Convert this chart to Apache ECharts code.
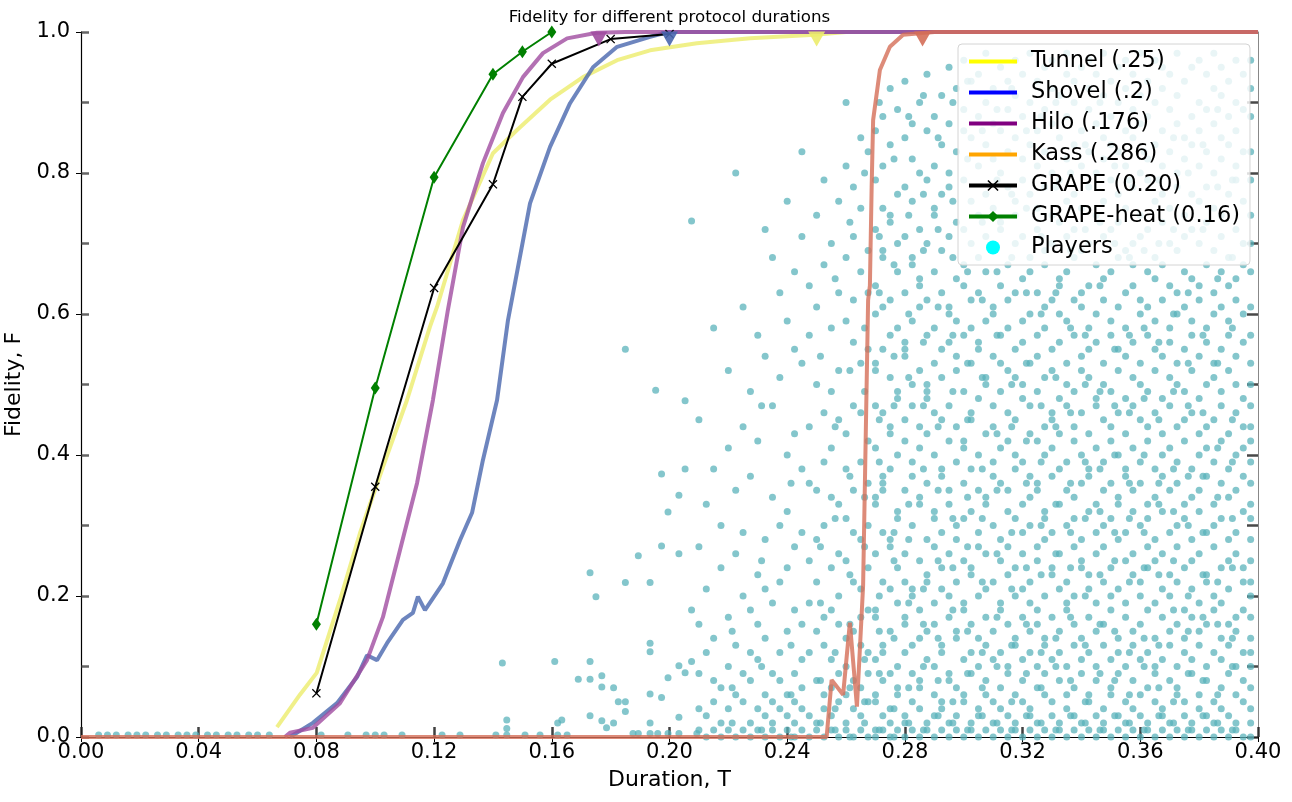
<!DOCTYPE html>
<html>
<head>
<meta charset="utf-8">
<script src="https://cdn.jsdelivr.net/npm/echarts@6/dist/echarts.min.js"></script>
<style>html,body{margin:0;padding:0;background:#fff}#c{width:1292px;height:802px}</style>
</head>
<body>
<div id="c"></div>
<script>
// ---------- data ----------
const xTicks = [0, 0.04, 0.08, 0.12, 0.16, 0.20, 0.24, 0.28, 0.32, 0.36, 0.40];
const yTicks = [0, 0.2, 0.4, 0.6, 0.8, 1.0];

const tunnel = [[0.0666,0.014],[0.0744,0.060],[0.0801,0.091],[0.0880,0.194],[0.0948,0.289],[0.1026,0.383],[0.1108,0.478],[0.1186,0.582],[0.1210,0.610],[0.1298,0.733],[0.1400,0.828],[0.1482,0.861],[0.1594,0.904],[0.1706,0.936],[0.1822,0.960],[0.1934,0.974],[0.2093,0.984],[0.2274,0.991],[0.2495,0.996],[0.26,1.0],[0.40,1.0]];
const shovel = [[0.0710,0.0],[0.0788,0.020],[0.0870,0.048],[0.0938,0.085],[0.0972,0.116],[0.1006,0.109],[0.1040,0.133],[0.1094,0.166],[0.1128,0.176],[0.1145,0.199],[0.1169,0.180],[0.1230,0.218],[0.1288,0.279],[0.1329,0.318],[0.1366,0.393],[0.1414,0.478],[0.1451,0.591],[0.1526,0.757],[0.1594,0.837],[0.1662,0.899],[0.1740,0.950],[0.1822,0.979],[0.1934,0.993],[0.1995,1.0],[0.40,1.0]];
const hilo = [[0.0693,0.0],[0.0710,0.006],[0.0788,0.013],[0.0880,0.048],[0.0972,0.109],[0.1026,0.170],[0.1084,0.265],[0.1142,0.360],[0.1196,0.478],[0.1247,0.606],[0.1298,0.723],[0.1366,0.814],[0.1434,0.885],[0.1502,0.936],[0.1570,0.970],[0.1652,0.991],[0.1753,0.999],[0.185,1.0],[0.40,1.0]];
const kass = [[0.0,0.0],[0.2534,0.0],[0.2551,0.081],[0.2590,0.060],[0.2613,0.162],[0.2637,0.043],[0.2658,0.215],[0.2675,0.620],[0.2681,0.640],[0.2687,0.780],[0.2692,0.875],[0.2715,0.946],[0.2749,0.979],[0.2794,0.996],[0.290,1.0],[0.40,1.0]];
const grape = [[0.08,0.062],[0.10,0.355],[0.12,0.637],[0.14,0.784],[0.15,0.908],[0.16,0.955],[0.18,0.990],[0.20,0.997]];
const grapeHeat = [[0.08,0.160],[0.10,0.495],[0.12,0.794],[0.14,0.940],[0.15,0.972],[0.16,1.0]];
const thresholds = [0.25, 0.2, 0.176, 0.286]; // Tunnel, Shovel, Hilo, Kass

const seriesNames = ['Tunnel (.25)','Shovel (.2)','Hilo (.176)','Kass (.286)','GRAPE (0.20)','GRAPE-heat (0.16)','Players'];

// players: duration columns and the fidelities found in each column
const playerT = [
.006,.009,.012,.016,.019,.022,.026,.029,.033,.036,.039,.043,.046,.050,.053,.057,.060,.064,
.0816,.0907,.0969,.1000,.1030,.1091,.1227,.1288,
.1410,.1432,.1447,.1509,.1560,.1610,.1620,.1634,.1652,.1690,.1730,.1750,.1770,.1786,.1810,.1826,.1850,.1876,.1894,.1934,.1953,.1960,.1973,.1995,.2032,.2053,.2075,.2093,
.2100,.2125,.2150,.2175,.2200,.2225,.2250,.2275,.2300,.2325,.2350,.2375,.2400,.2425,.2450,.2475,.2500,.2525,.2550,.2575,.2600,.2625,.2650,.2675,.2700,.2725,.2750,.2775,.2800,.2825,.2850,.2875,.2900,.2925,.2950,.2975,.3000,.3025,.3050,.3075,.3100,.3125,.3150,.3175,.3200,.3225,.3250,.3275,.3300,.3325,.3350,.3375,.3400,.3425,.3450,.3475,.3500,.3525,.3550,.3575,.3600,.3625,.3650,.3675,.3700,.3725,.3750,.3775,.3800,.3825,.3850,.3875,.3900,.3925,.3950,.3975,
.2213,.2313,.2413,.2513,.2563,.2613,.2663,.2713,.2763,.2813,.2863,.2913,.2963,.3013,.3063,.3113,.3163,.3213,.3263,.3313,.3363,.3413,.3463,.3513,.3563,.3613,.3663,.3713,.3763,.3813,.3863,.3913
];
const playerF = [
[.003],[.003],[.003],[.003],[.003],[.003],[.003],[.003],[.003],[.003],[.003],[.003],[.003],[.003],[.003],[.003],[.003],[.003],
[.003],[.003],[.003],[.003],[.003],[.003],[.003],[.003],
[.003],[.105],[.003,.012,.024],[.003],[.003],[.107],[.003,.020],[.024],[.003],[.082],[.030,.082,.107,.233],[.199],[.023,.071,.087],[.013],[.020,.070],[.050],[.036,.050,.219,.550],[.005],[.005,.257],[.005,.020,.061,.121,.133,.219],[.492],[.005],[.056,.271,.373],[.005,.084,.319],[.005,.028,.101,.260,.343],[.091,.380,.477],[.107,.180,.732],[.005],
[.01,.04,.09,.16,.27,.45],
[.00,.03,.12,.21,.33],
[.01,.05,.08,.14,.38,.58],
[.00,.02,.07,.24,.30],
[.01,.04,.10,.17,.41,.52],
[.00,.06,.13,.26,.35,.80],
[.01,.05,.09,.20,.29,.44,.61],
[.00,.02,.08,.12,.18,.37,.49],
[.01,.04,.11,.16,.23,.42,.57],
[.00,.03,.06,.14,.21,.28,.54,.72],
[.01,.02,.05,.09,.19,.34,.47,.68],
[.00,.04,.08,.12,.22,.30,.51,.63],
[.01,.03,.06,.15,.24,.32,.40,.59,.76],
[.00,.02,.05,.09,.18,.27,.43,.55,.66],
[.01,.04,.07,.11,.16,.29,.38,.53,.71,.83],
[.00,.03,.12,.19,.25,.36,.44,.57,.64],
[.01,.02,.08,.15,.22,.28,.35,.50,.61,.74],
[.00,.04,.06,.13,.17,.30,.39,.46,.67,.79],
[.01,.03,.07,.11,.18,.24,.34,.41,.49,.58,.70],
[.00,.05,.09,.16,.20,.26,.33,.45,.52,.63,.76],
[.01,.02,.06,.10,.14,.25,.31,.38,.43,.59,.68,.81,.90],
[.00,.04,.08,.15,.22,.29,.35,.47,.56,.62,.71,.78],
[.01,.03,.07,.13,.17,.21,.28,.39,.46,.53,.66,.75,.85],
[.00,.05,.09,.12,.18,.24,.30,.36,.42,.55,.63,.69,.83],
[.00,.01,.05,.06,.11,.17,.18,.26,.33,.34,.41,.47,.52,.53,.60,.64,.72,.79,.86],
[.01,.03,.08,.12,.13,.22,.29,.35,.36,.37,.46,.55,.61,.68,.69,.75,.81,.88],
[.00,.02,.04,.09,.15,.21,.27,.28,.38,.43,.44,.51,.57,.62,.73,.74,.84,.92],
[.01,.06,.07,.10,.19,.24,.31,.32,.40,.48,.49,.58,.66,.70,.77,.89],
[.00,.02,.03,.12,.16,.17,.22,.26,.35,.42,.45,.54,.55,.56,.63,.71,.78,.85,.93],
[.01,.05,.09,.13,.20,.21,.30,.37,.39,.47,.50,.59,.67,.68,.76,.82,.87],
[.00,.04,.07,.08,.14,.18,.25,.33,.34,.41,.44,.52,.61,.64,.65,.72,.80,.90],
[.01,.02,.11,.15,.22,.23,.28,.36,.43,.48,.49,.50,.57,.62,.70,.79,.86,.94],
[.00,.03,.06,.10,.16,.19,.27,.31,.32,.40,.46,.53,.58,.66,.74,.75,.81,.88],
[.01,.04,.05,.12,.13,.21,.24,.29,.37,.38,.45,.51,.55,.63,.69,.77,.84,.91],
[.00,.02,.08,.09,.17,.20,.26,.33,.35,.42,.47,.56,.60,.61,.71,.78,.80,.87,.95],
[.01,.03,.07,.14,.15,.22,.28,.30,.39,.44,.52,.54,.59,.65,.73,.83,.92],
[.00,.05,.06,.11,.18,.19,.25,.31,.36,.41,.42,.49,.57,.64,.67,.72,.79,.86,.89,.96],
[.01,.02,.09,.12,.16,.23,.24,.32,.38,.45,.46,.53,.58,.62,.70,.76,.85,.93],
[.00,.03,.04,.10,.14,.20,.27,.29,.35,.40,.48,.55,.56,.63,.68,.74,.81,.88,.94],
[.01,.06,.08,.13,.17,.21,.26,.33,.34,.43,.50,.51,.59,.66,.71,.77,.84,.90,.97],
[.00,.02,.05,.11,.15,.22,.30,.37,.39,.44,.47,.54,.60,.61,.69,.75,.82,.87,.92],
[.01,.04,.07,.12,.18,.19,.25,.28,.36,.41,.49,.53,.57,.64,.72,.73,.80,.86,.95],
[.00,.03,.09,.10,.16,.23,.27,.32,.35,.42,.46,.52,.58,.62,.67,.78,.83,.89,.93],
[.01,.02,.06,.13,.14,.20,.24,.31,.38,.40,.45,.51,.55,.63,.70,.74,.76,.85,.91,.96],
[.00,.05,.08,.11,.17,.21,.26,.29,.33,.39,.48,.50,.56,.59,.65,.71,.79,.82,.88,.94],
[.01,.03,.04,.12,.15,.19,.22,.30,.34,.37,.43,.47,.53,.60,.66,.68,.77,.84,.90,.97],
[.00,.02,.07,.10,.16,.18,.25,.27,.35,.36,.42,.49,.54,.57,.63,.72,.75,.81,.86,.93],
[.01,.06,.09,.13,.14,.20,.28,.31,.32,.40,.44,.51,.58,.61,.67,.69,.78,.83,.89,.95],
[.00,.03,.05,.11,.17,.23,.24,.29,.37,.41,.45,.46,.52,.55,.62,.70,.74,.80,.87,.92,.96],
[.01,.02,.08,.12,.15,.21,.26,.33,.38,.43,.48,.56,.60,.64,.65,.73,.79,.85,.91],
[.00,.04,.06,.10,.18,.19,.22,.30,.35,.39,.47,.50,.53,.59,.66,.71,.76,.82,.88,.94,.97],
[.01,.03,.07,.13,.16,.20,.27,.31,.34,.42,.44,.49,.57,.62,.68,.72,.77,.84,.90,.93],
[.00,.02,.09,.11,.14,.24,.25,.28,.36,.40,.46,.52,.54,.61,.63,.69,.75,.81,.86,.95],
[.01,.05,.06,.12,.17,.21,.23,.32,.37,.38,.43,.51,.55,.58,.64,.70,.78,.83,.89,.92,.96],
[.00,.03,.08,.10,.15,.19,.26,.29,.33,.41,.47,.48,.56,.60,.67,.74,.80,.87,.94],
[.01,.02,.04,.13,.16,.22,.27,.30,.35,.39,.45,.50,.53,.62,.65,.71,.76,.82,.85,.91,.97],
[.00,.06,.07,.11,.18,.20,.24,.31,.36,.42,.44,.49,.57,.59,.66,.72,.79,.84,.88,.93],
[.01,.03,.09,.12,.14,.21,.28,.33,.34,.40,.46,.52,.55,.61,.68,.73,.77,.83,.90,.95],
[.00,.02,.05,.10,.17,.19,.25,.29,.37,.38,.43,.48,.54,.58,.63,.69,.75,.81,.86,.92,.96],
[.01,.04,.08,.13,.15,.23,.26,.32,.35,.41,.47,.51,.56,.64,.67,.70,.78,.85,.89,.94],
[.00,.03,.06,.11,.16,.20,.22,.30,.36,.39,.45,.50,.53,.60,.62,.71,.74,.80,.87,.91,.97],
[.01,.02,.07,.12,.18,.24,.27,.31,.33,.42,.44,.49,.57,.61,.66,.72,.79,.82,.88,.93],
[.00,.05,.09,.10,.14,.19,.25,.28,.34,.38,.46,.52,.55,.59,.65,.68,.76,.84,.90,.96],
[.01,.03,.04,.11,.17,.21,.26,.32,.37,.40,.43,.48,.54,.62,.67,.73,.77,.81,.86,.92,.95],
[.00,.02,.08,.13,.15,.20,.23,.29,.35,.41,.47,.51,.56,.58,.64,.70,.75,.83,.89,.94],
[.01,.06,.07,.10,.16,.22,.27,.30,.36,.39,.44,.50,.53,.60,.63,.69,.78,.80,.87,.91,.97],
[.00,.03,.05,.12,.14,.18,.24,.31,.33,.42,.45,.49,.55,.61,.66,.71,.74,.82,.85,.93],
[.01,.02,.09,.11,.17,.21,.25,.28,.34,.38,.46,.52,.57,.59,.65,.72,.77,.84,.88,.95],
[.00,.04,.06,.13,.15,.19,.26,.32,.35,.40,.43,.48,.54,.62,.64,.70,.76,.81,.86,.90,.96],
[.01,.03,.08,.10,.16,.22,.23,.29,.37,.41,.44,.50,.56,.58,.67,.73,.78,.83,.89,.94],
[.00,.02,.05,.12,.18,.20,.27,.30,.33,.39,.45,.51,.53,.60,.63,.69,.75,.80,.87,.92,.97],
[.01,.04,.07,.11,.14,.19,.24,.31,.36,.42,.47,.49,.55,.61,.66,.71,.74,.82,.85,.91,.95],
[.00,.03,.09,.13,.16,.21,.25,.28,.34,.38,.43,.52,.57,.59,.64,.68,.77,.84,.88,.93],
[.01,.02,.06,.10,.15,.17,.26,.29,.35,.40,.46,.50,.54,.62,.65,.72,.79,.81,.86,.90,.96],
[.00,.05,.08,.12,.18,.22,.24,.32,.37,.41,.44,.48,.56,.60,.67,.70,.76,.83,.89,.94],
[.00,.02,.04,.07,.10,.12,.14,.17,.20,.22,.25,.28,.31,.33,.36,.39,.42,.44,.47,.50,.53,.57,.61,.66,.70,.74,.79,.83,.88,.92,.96],
[.02,.07,.15],
[.01,.10,.25,.47],
[.00,.06,.13,.36],
[.02,.08,.19,.27,.54],
[.01,.04,.12,.31,.44,.65],
[.00,.07,.16,.23,.37,.52,.73],
[.02,.05,.11,.27,.34,.49,.58,.80],
[.01,.09,.15,.20,.39,.45,.63,.71,.90],
[.00,.04,.14,.25,.29,.47,.54,.67,.82],
[.02,.07,.19,.28,.33,.51,.60,.74,.88],
[.01,.10,.16,.21,.38,.47,.56,.69,.77,.91],
[.03,.08,.14,.25,.35,.44,.61,.72,.85],
[.02,.05,.18,.24,.31,.49,.57,.68,.76,.90],
[.01,.09,.15,.27,.34,.45,.53,.66,.82,.93],
[.03,.07,.12,.22,.31,.38,.51,.62,.73,.86],
[.02,.10,.17,.26,.35,.43,.57,.66,.79,.89],
[.01,.05,.13,.21,.29,.44,.50,.68,.77,.92],
[.03,.09,.16,.24,.36,.42,.53,.63,.75,.86],
[.02,.07,.12,.23,.30,.39,.47,.60,.71,.88],
[.01,.10,.14,.26,.33,.44,.51,.63,.78,.90],
[.03,.08,.17,.24,.29,.36,.46,.58,.69,.80],
[.02,.05,.13,.20,.31,.39,.50,.57,.72,.84],
[.01,.09,.16,.23,.32,.38,.49,.64,.73,.90],
[.03,.08,.15,.25,.29,.40,.47,.55,.70,.81],
[.02,.06,.12,.22,.31,.36,.46,.57,.68,.79],
[.01,.10,.14,.24,.29,.40,.48,.58,.69,.83],
[.03,.07,.13,.23,.33,.36,.45,.56,.70,.79],
[.02,.05,.18,.25,.32,.38,.49,.60,.72,.85],
[.01,.09,.15,.20,.30,.37,.47,.53,.63,.80],
[.03,.08,.17,.23,.29,.37,.46,.57,.72,.84],
[.02,.06,.16,.22,.34,.41,.53,.65,.78,.89],
[.01,.10,.14,.24,.31,.39,.45,.58,.68,.79]
];

// ---------- build ----------
const players = [];
playerT.forEach((t, i) => playerF[i].forEach(f => players.push([t, f])));

const FONT = 'DejaVu Sans';
const xMark = 'path://M0,1 L1,0 L5,4 L9,0 L10,1 L6,5 L10,9 L9,10 L5,6 L1,10 L0,9 L4,5Z';

function curve(name, data, color, th) {
  return {
    name, type: 'line', data, symbol: 'none', clip: false, z: 3,
    lineStyle: { color, width: 4, opacity: 0.8 },
    itemStyle: { color },
    markPoint: {
      symbol: 'triangle', symbolRotate: 180, symbolSize: [17, 15], symbolOffset: [0, 7],
      label: { show: false }, itemStyle: { color, opacity: 0.9 },
      data: [{ coord: [th, 1] }]
    }
  };
}
function legendLine(name, color) {
  return { name, itemStyle: { color: 'rgba(0,0,0,0)', opacity: 0, borderWidth: 0 },
           lineStyle: { color, width: 4, opacity: 1 } };
}

const chart = echarts.init(document.getElementById('c'), null, { renderer: 'canvas' });
chart.setOption({
  animation: false,
  backgroundColor: '#fff',
  textStyle: { fontFamily: FONT },
  graphic: [{
    type: 'text', x: 669.5, y: 18, z: 10,
    style: { text: 'Fidelity for different protocol durations', font: '16.7px "DejaVu Sans"', fill: '#000',
             align: 'center', verticalAlign: 'middle', textAlign: 'center', textVerticalAlign: 'middle' }
  }],
  grid: { left: 81, right: 34, top: 32, bottom: 65, containLabel: false, outerBoundsMode: 'none' },
  xAxis: [{
    type: 'value', min: xTicks[0], max: xTicks[xTicks.length - 1], interval: 0.04,
    name: 'Duration, T', nameLocation: 'middle', nameGap: 32,
    nameTextStyle: { fontSize: 22, color: '#000', fontFamily: FONT },
    axisLine: { show: true, onZero: false, lineStyle: { color: '#000', width: 1.2 } },
    axisTick: { show: true, length: 5, lineStyle: { color: '#000' } },
    axisLabel: { fontSize: 21, color: '#000', fontFamily: FONT, margin: 5, formatter: v => v.toFixed(2) },
    splitLine: { show: false }
  }, {
    type: 'value', min: 0, max: 0.4, interval: 0.04, position: 'bottom',
    axisLine: { show: false }, axisLabel: { show: false }, splitLine: { show: false },
    axisTick: { show: true, inside: true, length: 10, lineStyle: { color: 'rgba(30,30,30,0.85)', width: 2.5 } }
  }],
  yAxis: [{
    type: 'value', min: yTicks[0], max: yTicks[yTicks.length - 1], interval: 0.2,
    name: 'Fidelity, F', nameLocation: 'middle', nameGap: 48, nameRotate: 90,
    nameTextStyle: { fontSize: 22, color: '#000', fontFamily: FONT },
    axisLine: { show: true, onZero: false, lineStyle: { color: '#000', width: 1.2 } },
    axisTick: { show: true, length: 5, lineStyle: { color: '#000' } },
    axisLabel: { fontSize: 21, color: '#000', fontFamily: FONT, margin: 11, formatter: v => v.toFixed(1) },
    splitLine: { show: false }
  }, {
    type: 'value', min: 0, max: 1, interval: 0.1, position: 'left',
    axisLine: { show: false }, axisLabel: { show: false }, splitLine: { show: false },
    axisTick: { show: true, inside: true, length: 8, lineStyle: { color: 'rgba(50,50,50,0.75)', width: 2.5 } }
  }, {
    type: 'value', min: 0, max: 1, interval: 0.1, position: 'right',
    axisLine: { show: true, onZero: false, lineStyle: { color: '#888', width: 1 } },
    axisLabel: { show: false }, splitLine: { show: false },
    axisTick: { show: true, inside: true, length: 11, lineStyle: { color: 'rgba(40,40,40,0.85)', width: 2.5 } }
  }],
  legend: {
    orient: 'vertical', left: 958, top: 44,
    padding: [6, 10, 6, 9], itemGap: 8, itemWidth: 48, itemHeight: 14,
    backgroundColor: 'rgba(255,255,255,0.82)', borderColor: '#d4d4d4', borderWidth: 1, borderRadius: 4,
    textStyle: { fontSize: 22.5, color: '#000', fontFamily: FONT, padding: [0, 0, 0, 9] },
    selectedMode: false,
    data: [
      legendLine(seriesNames[0], '#ffff00'),
      legendLine(seriesNames[1], '#0000ff'),
      legendLine(seriesNames[2], '#800080'),
      legendLine(seriesNames[3], '#ffa500'),
      { name: seriesNames[4], itemStyle: { color: '#000' }, lineStyle: { color: '#000', width: 4, opacity: 1 } },
      { name: seriesNames[5], itemStyle: { color: '#008000' }, lineStyle: { color: '#008000', width: 4, opacity: 1 } },
      { name: seriesNames[6], icon: 'circle', itemStyle: { color: '#00ffff', opacity: 1 } }
    ]
  },
  series: [
    {
      name: seriesNames[6], type: 'scatter', data: players, symbol: 'circle', symbolSize: 7, z: 1,
      itemStyle: { color: 'rgba(88,178,186,0.92)' }, emphasis: { disabled: true }
    },
    curve(seriesNames[0], tunnel, '#ecec6c', thresholds[0]),
    curve(seriesNames[1], shovel, '#4866ae', thresholds[1]),
    curve(seriesNames[2], hilo, '#a04ca0', thresholds[2]),
    curve(seriesNames[3], kass, '#d46e58', thresholds[3]),
    {
      name: seriesNames[4], type: 'line', data: grape, z: 4, clip: false,
      symbol: xMark, symbolSize: 9, showAllSymbol: true,
      lineStyle: { color: '#000', width: 2 }, itemStyle: { color: '#000' }
    },
    {
      name: seriesNames[5], type: 'line', data: grapeHeat, z: 4, clip: false,
      symbol: 'diamond', symbolSize: [9, 13], showAllSymbol: true,
      lineStyle: { color: '#008000', width: 2 }, itemStyle: { color: '#008000' }
    }
  ]
});
</script>
</body>
</html>
